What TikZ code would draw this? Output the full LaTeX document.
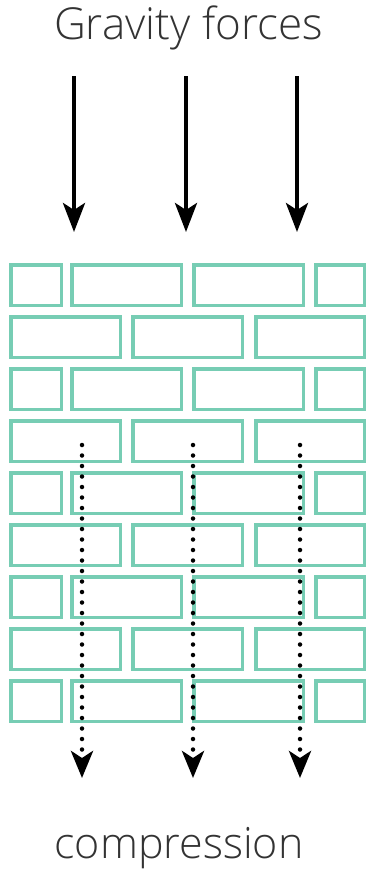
\documentclass[tikz,border=0pt]{standalone}
\usepackage{fontspec}
\setmainfont{Open Sans}[UprightFont=* Light]
\usetikzlibrary{arrows.meta}
\definecolor{brick}{HTML}{77CDB4}
\definecolor{txtgray}{HTML}{333333}
\tikzset{
  brickbox/.style={draw=brick,line width=3.5pt},
  force/.style={line width=4pt,-{Stealth[length=29pt,width=22pt,inset=7pt]}},
  comp/.style={line width=4.5pt,line cap=round,dash pattern=on 0pt off 10.5pt,-{Stealth[length=27pt,width=22pt,inset=7pt]}},
  txt/.style={text=txtgray,inner sep=0pt,anchor=base}
}
\begin{document}
\begin{tikzpicture}[x=1pt,y=-1pt]
\useasboundingbox (0,0) rectangle (370,875);
% bricks
\foreach \r in {0,2,4,6,8}{
  \foreach \a/\b in {9/63,70/183,192/305,314/366}{
    \draw[brickbox] ({\a+1.75},{263+52*\r+1.75}) rectangle ({\b-1.75},{263+52*\r+42.25});
  }
}
\foreach \r in {1,3,5,7}{
  \foreach \a/\b in {9/122,131/244,254/366}{
    \draw[brickbox] ({\a+1.75},{263+52*\r+1.75}) rectangle ({\b-1.75},{263+52*\r+42.25});
  }
}
% texts
\node[txt,font=\fontsize{44}{48}\selectfont] (top) at (188.5,40) {Gravity forces};
\node[txt,font=\fontsize{43}{47}\selectfont] (bot) at (179,858) {compression};
% gravity arrows
\coordinate (g1s) at (74,76);  \coordinate (g1e) at (74,232);
\coordinate (g2s) at (186,76); \coordinate (g2e) at (186,232);
\coordinate (g3s) at (297,76); \coordinate (g3e) at (297,232);
\draw[force] (g1s) -- (g1e);
\draw[force] (g2s) -- (g2e);
\draw[force] (g3s) -- (g3e);
% compression arrows
\coordinate (c1s) at (82,445);  \coordinate (c1e) at (82,778);
\coordinate (c2s) at (193,445); \coordinate (c2e) at (193,778);
\coordinate (c3s) at (300,445); \coordinate (c3e) at (300,778);
\draw[comp] (c1s) -- (c1e);
\draw[comp] (c2s) -- (c2e);
\draw[comp] (c3s) -- (c3e);
\end{tikzpicture}
\end{document}
